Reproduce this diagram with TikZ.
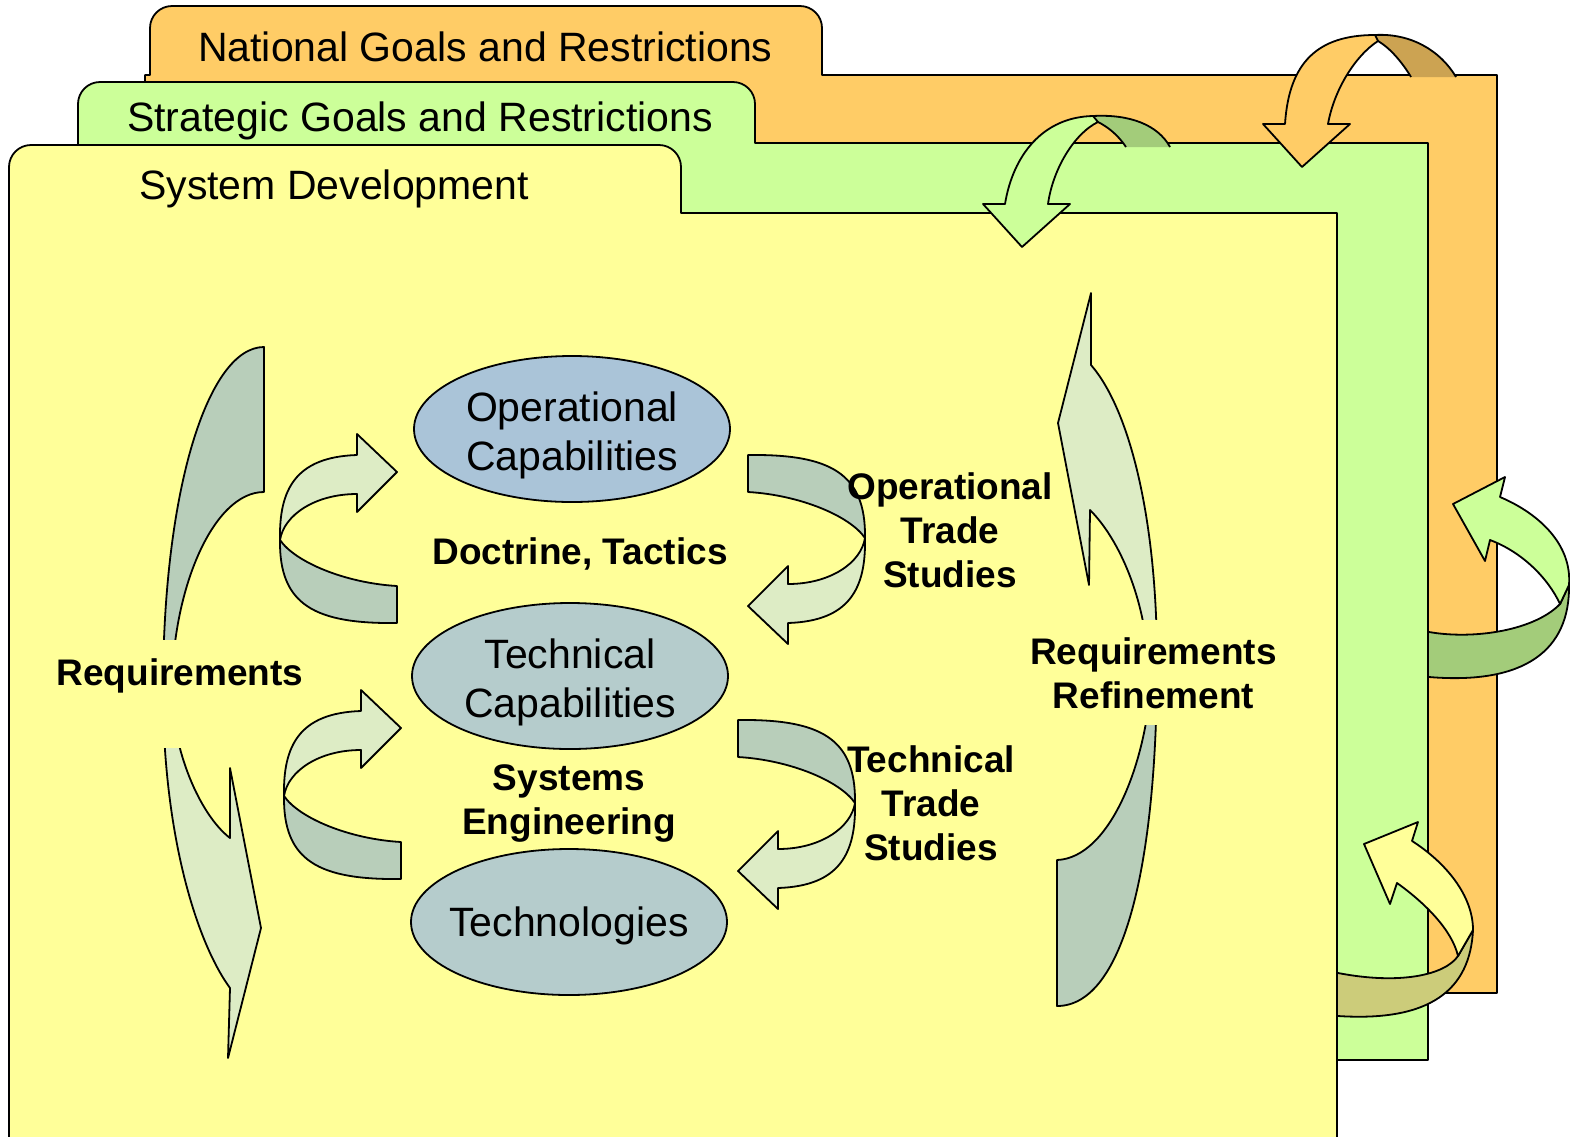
\documentclass[tikz,border=0pt]{standalone}
\usepackage{fontspec}
\setmainfont{Liberation Sans}
\usetikzlibrary{shapes.geometric}
\definecolor{orangeP}{HTML}{FFCC66}
\definecolor{greenP}{HTML}{CCFF99}
\definecolor{yellowP}{HTML}{FFFF99}
\definecolor{orangeD}{HTML}{CCA352}
\definecolor{greenD}{HTML}{A3CC7A}
\definecolor{yellowD}{HTML}{CCCC7A}
\definecolor{arrL}{RGB}{221,236,197}
\definecolor{arrD}{RGB}{184,206,186}
\definecolor{opBlue}{RGB}{170,196,216}
\definecolor{tcBlue}{RGB}{181,204,204}
\tikzset{
  outl/.style={draw=black, line width=1.8pt, line join=round},
  ell/.style={ellipse, outl, minimum width=316pt, minimum height=146pt, inner sep=0pt, outer sep=0pt, align=center, font=\fontsize{41}{49}\selectfont},
  tabtxt/.style={anchor=base west, inner sep=0pt, font=\fontsize{41}{48}\selectfont},
  lbl/.style={inner sep=0pt, align=center, font=\fontsize{37}{44}\selectfont\bfseries},
}
\newcommand\smallarr[1]{%
\begin{scope}[#1]
\filldraw[outl, fill=arrD] (280,540) .. controls (295,562) and (345,583) .. (397,586) -- (397,623) .. controls (315,624) and (279,605) .. (280,540) -- cycle;
\filldraw[outl, fill=arrL] (357,494) -- (357,512) -- (397,472) -- (357,434) -- (357,455) .. controls (295,457) and (279,490) .. (280,540) .. controls (284,515) and (315,494) .. (357,494) -- cycle;
\end{scope}}
\begin{document}
\begin{tikzpicture}[x=1pt,y=-1pt]
\useasboundingbox (0,0) rectangle (1570,1136);
\clip (0,0) rectangle (1570,1136);
% panels
\filldraw[outl, fill=orangeP] (145,993) -- (145,75) -- (150,75) -- (150,28) .. controls (150,15.9) and (159.9,6) .. (172,6) -- (800,6) .. controls (812.1,6) and (822,15.9) .. (822,28) -- (822,75) -- (1497,75) -- (1497,993) -- cycle;
\filldraw[outl, fill=greenP] (78,1060) -- (78,104) .. controls (78,91.9) and (87.9,82) .. (100,82) -- (733,82) .. controls (745.1,82) and (755,91.9) .. (755,104) -- (755,143) -- (1428,143) -- (1428,1060) -- cycle;
\filldraw[outl, fill=yellowP] (9,1150) -- (9,167) .. controls (9,154.9) and (18.9,145) .. (31,145) -- (659,145) .. controls (671.1,145) and (681,154.9) .. (681,167) -- (681,213) -- (1337,213) -- (1337,1150) -- cycle;
% tab titles
\node[tabtxt] (natl) at (198,61) {National Goals and Restrictions};
\node[tabtxt] (strat) at (127,131) {Strategic Goals and Restrictions};
\node[tabtxt] (sysdev) at (139,199) {System Development};
% top green arrow
\fill[greenD] (1093,116) .. controls (1130,114) and (1158,125) .. (1170,147) -- (1126,147) .. controls (1118,135) and (1108,127) .. (1098,122) -- cycle;
\draw[outl] (1093,116) .. controls (1130,114) and (1158,125) .. (1170,147);
\draw[outl] (1126,147) .. controls (1118,135) and (1108,127) .. (1098,122);
\filldraw[outl, fill=greenP] (1048,204) -- (1070,204) -- (1022,247) -- (983,204) -- (1005,204) .. controls (1013,155) and (1043,117) .. (1093,116) -- (1098,122) .. controls (1075,133) and (1053,168) .. (1048,204) -- cycle;
% top orange arrow
\fill[orangeD] (1375,35) .. controls (1410,33) and (1440,50) .. (1456,77) -- (1411,77) .. controls (1402,62) and (1390,48) .. (1378,41) -- cycle;
\draw[outl] (1375,35) .. controls (1410,33) and (1440,50) .. (1456,77);
\draw[outl] (1411,77) .. controls (1402,62) and (1390,48) .. (1378,41);
\filldraw[outl, fill=orangeP] (1328,124) -- (1350,124) -- (1302,167) -- (1263,124) -- (1285,124) .. controls (1289,62) and (1318,35) .. (1375,35) -- (1378,41) .. controls (1355,56) and (1334,90) .. (1328,124) -- cycle;
% right green arrow
\fill[greenD] (1429,632) .. controls (1475,640) and (1535,630) .. (1560,604) -- (1569,585) .. controls (1570,650) and (1525,685) .. (1429,677) -- cycle;
\draw[outl] (1429,632) .. controls (1475,640) and (1535,630) .. (1560,604) -- (1569,585) .. controls (1570,650) and (1525,685) .. (1429,677);
\filldraw[outl, fill=greenP] (1490,540) -- (1485,561) -- (1453,504) -- (1505,477) -- (1500,497) .. controls (1540,514) and (1572,545) .. (1569,585) -- (1560,604) .. controls (1548,578) and (1522,552) .. (1490,540) -- cycle;
% right yellow arrow
\fill[yellowD] (1338,973) .. controls (1400,985) and (1445,975) .. (1458,956) -- (1473,930) .. controls (1470,990) and (1430,1022) .. (1338,1016) -- cycle;
\draw[outl] (1338,973) .. controls (1400,985) and (1445,975) .. (1458,956) -- (1473,930) .. controls (1470,990) and (1430,1022) .. (1338,1016);
\filldraw[outl, fill=yellowP] (1397,883) -- (1390,904) -- (1364,844) -- (1418,822) -- (1412,841) .. controls (1445,862) and (1473,895) .. (1473,930) -- (1458,956) .. controls (1452,930) and (1425,903) .. (1397,883) -- cycle;
% big left arrow (Requirements)
\filldraw[outl, fill=arrD] (264,347) .. controls (208,347) and (163,490) .. (163,690) -- (172,690) .. controls (172,590) and (213,492) .. (264,492) -- cycle;
\filldraw[outl, fill=arrL] (163,690) .. controls (163,830) and (195,940) .. (230,988) -- (228,1058) -- (261,928) -- (230,768) -- (230,838) .. controls (200,815) and (172,750) .. (172,690) -- cycle;
% big right arrow (Requirements Refinement)
\filldraw[outl, fill=arrD] (1057,1006) -- (1057,860) .. controls (1110,858) and (1150,760) .. (1152,662) -- (1157,662) .. controls (1157,860) and (1125,1006) .. (1057,1006) -- cycle;
\filldraw[outl, fill=arrL] (1157,662) .. controls (1157,520) and (1130,410) .. (1091,365) -- (1091,293) -- (1058,423) -- (1089,585) -- (1090,510) .. controls (1120,540) and (1145,600) .. (1148,662) -- cycle;
% small arrows
\smallarr{}
\smallarr{shift={(4,256)}}
\smallarr{rotate around={180:(572.5,539)}}
\smallarr{shift={(-10,265)}, rotate around={180:(572.5,539)}}
% label backgrounds cutting the big arrows
\fill[yellowP] (140,640) rectangle (215,748);
\fill[yellowP] (1120,620) rectangle (1185,725);
% ellipses
\node[ell, fill=opBlue] (opcap) at (572,429) {\rule{0pt}{42pt}\makebox[0pt]{Operational}\\\makebox[0pt]{Capabilities}};
\node[ell, fill=tcBlue] (techcap) at (570,676) {\rule{0pt}{42pt}\makebox[0pt]{Technical}\\\makebox[0pt]{Capabilities}};
\node[ell, fill=tcBlue] (techn) at (569,922) {\rule{0pt}{38pt}\makebox[0pt]{Technologies}};
% labels
\node[lbl] (doctr) at (580,554) {Doctrine, Tactics};
\node[lbl] (optrade) at (950,530.5) {Operational\\Trade\\Studies};
\node[lbl] (req) at (180,676) {Requirements};
\node[lbl] (reqref) at (1153.5,673.5) {Requirements\\Refinement};
\node[lbl] (syseng) at (569,803) {Systems\\Engineering};
\node[lbl] (techtrade) at (931,803) {Technical\\Trade\\Studies};
\end{tikzpicture}
\end{document}
